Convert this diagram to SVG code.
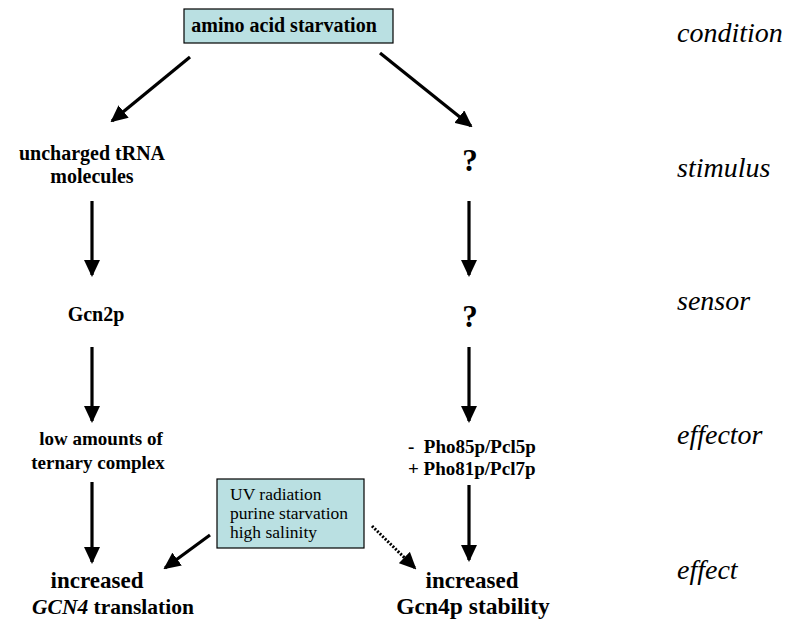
<svg xmlns="http://www.w3.org/2000/svg" width="789" height="623" viewBox="0 0 789 623">
<style>
text{font-family:'Liberation Serif','Times New Roman',Tinos,'DejaVu Serif',serif}
.n{font-weight:bold;font-size:19px;fill:#000;text-anchor:middle}
.big{font-size:23px}
.q{font-size:31px}
.lab{font-style:italic;font-size:28px;fill:#000}
.uv{font-size:17.5px;fill:#000}
.box{fill:#bae0e2;stroke:#000;stroke-width:1.2}
.ln{stroke:#000;stroke-width:3.2;fill:none}
.dot{stroke:#000;stroke-width:3;fill:none;stroke-dasharray:2 1.6}
</style>
<defs>
<marker id="ah" markerUnits="userSpaceOnUse" viewBox="0 0 17 16" refX="15" refY="8" markerWidth="17" markerHeight="16" orient="auto">
<path d="M0,0 L17,8 L0,16 Z" fill="#000"/>
</marker>
</defs>
<g id="condition">
<rect class="box" x="184" y="9" width="209" height="34"/>
<text class="n" x="284" y="32" style="font-size:20px">amino acid starvation</text>
</g>
<g id="tRNA">
<text class="n" x="92" y="160" style="font-size:20px">uncharged tRNA</text>
<text class="n" x="92" y="183" style="font-size:20px">molecules</text>
</g>
<g id="q1"><text class="n q" x="470" y="171">?</text></g>
<g id="gcn2p"><text class="n" x="96" y="321" style="font-size:20px">Gcn2p</text></g>
<g id="q2"><text class="n q" x="470" y="327">?</text></g>
<g id="ternary">
<text class="n" x="101" y="445">low amounts of</text>
<text class="n" x="98" y="469">ternary complex</text>
</g>
<g id="pho">
<text class="n" x="408" y="453" style="text-anchor:start" xml:space="preserve">-  Pho85p/Pcl5p</text>
<text class="n" x="408" y="475" style="text-anchor:start">+ Pho81p/Pcl7p</text>
</g>
<g id="uvbox">
<rect class="box" x="217" y="479" width="147" height="69"/>
<text class="uv" x="230" y="500">UV radiation</text>
<text class="uv" x="230" y="519">purine starvation</text>
<text class="uv" x="230" y="538">high salinity</text>
</g>
<g id="gcn4translation">
<text class="n big" x="97" y="588">increased</text>
<text class="n big" x="113" y="614" style="font-size:21.5px"><tspan font-style="italic">GCN4</tspan> translation</text>
</g>
<g id="gcn4stability">
<text class="n big" x="472" y="588">increased</text>
<text class="n big" x="473" y="614" style="font-size:23.5px">Gcn4p stability</text>
</g>
<g id="labels">
<text class="lab" x="677" y="42">condition</text>
<text class="lab" x="677" y="177">stimulus</text>
<text class="lab" x="677" y="310">sensor</text>
<text class="lab" x="677" y="444">effector</text>
<text class="lab" x="677" y="579">effect</text>
</g>
<g id="connectors">
<line class="ln" x1="190" y1="57" x2="112" y2="121" marker-end="url(#ah)"/>
<line class="ln" x1="380" y1="53" x2="471" y2="126" marker-end="url(#ah)"/>
<line class="ln" x1="92" y1="201" x2="92" y2="275" marker-end="url(#ah)"/>
<line class="ln" x1="92" y1="347" x2="92" y2="421" marker-end="url(#ah)"/>
<line class="ln" x1="92" y1="482" x2="92" y2="562" marker-end="url(#ah)"/>
<line class="ln" x1="469" y1="201" x2="469" y2="275" marker-end="url(#ah)"/>
<line class="ln" x1="469" y1="347" x2="469" y2="421" marker-end="url(#ah)"/>
<line class="ln" x1="469" y1="485" x2="469" y2="560" marker-end="url(#ah)"/>
<line class="ln" x1="210" y1="535" x2="165" y2="568" marker-end="url(#ah)"/>
<line class="dot" x1="372" y1="526" x2="415" y2="568" marker-end="url(#ah)"/>
</g>
</svg>
